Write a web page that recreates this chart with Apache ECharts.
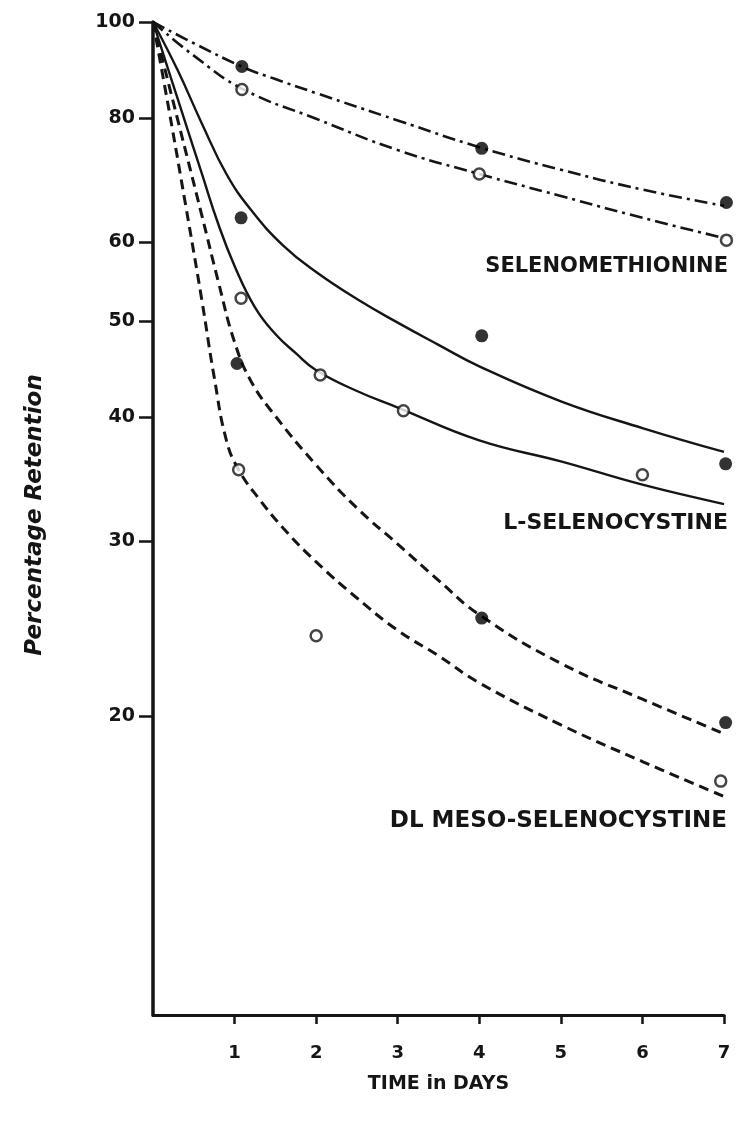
<!DOCTYPE html>
<html>
<head>
<meta charset="utf-8">
<title>Percentage Retention</title>
<script src="https://cdn.jsdelivr.net/npm/echarts@6/dist/echarts.min.js"></script>
<style>
  html, body { margin: 0; padding: 0; background: #fff; }
  #chart { width: 739px; height: 1138px; }
</style>
</head>
<body>
<div id="chart"></div>
<script>
// Tick labels
const dayTicks = [1, 2, 3, 4, 5, 6, 7];
const retentionTicks = [20, 30, 40, 50, 60, 80, 100];

// Observed retention (%) — filled and open symbols for each compound
const selenomethionineFilled = [[1.09, 90.2], [4.03, 74.6], [7.03, 65.8]];
const selenomethionineOpen = [[1.09, 85.5], [4.0, 70.3], [7.03, 60.3]];
const lSelenocystineFilled = [[1.08, 63.5], [4.03, 48.3], [7.02, 35.9]];
const lSelenocystineOpen = [[1.08, 52.7], [2.05, 44.1], [3.07, 40.6], [6.0, 35.0]];
const dlMesoFilled = [[1.03, 45.3], [4.03, 25.1], [7.02, 19.7]];
const dlMesoOpen = [[1.05, 35.4], [2.0, 24.1], [6.96, 17.2]];

// Fitted retention curves
const selenomethionineFilledCurve = [[0, 100], [0.5, 95.2], [1.1, 90.1], [1.5, 87.6], [2, 84.8], [3, 79.6], [4, 74.8], [5, 71.0], [6, 67.8], [7, 65.3]];
const selenomethionineOpenCurve = [[0, 100], [0.5, 92.5], [1.1, 85.6], [2, 79.9], [3, 74.3], [4, 70.3], [5, 66.8], [6, 63.5], [7, 60.6]];
const lSelenocystineFilledCurve = [[0, 100], [0.3, 89.5], [0.6, 79.0], [0.9, 70.3], [1.2, 64.7], [1.6, 59.5], [2.0, 56.0], [2.5, 52.6], [3.0, 49.8], [3.5, 47.3], [4.0, 45.0], [5.0, 41.5], [6.0, 39.0], [7.0, 36.9]];
const lSelenocystineOpenCurve = [[0, 100], [0.3, 83.8], [0.6, 70.3], [0.8, 62.6], [1.0, 56.8], [1.25, 51.6], [1.5, 48.5], [1.75, 46.4], [2.0, 44.6], [2.5, 42.5], [3.0, 40.9], [4.0, 37.9], [5.0, 36.1], [6.0, 34.2], [7.0, 32.7]];
const dlMesoFilledCurve = [[0, 100], [0.3, 79.9], [0.6, 63.8], [0.8, 54.8], [1.0, 47.6], [1.2, 43.5], [1.5, 40.1], [2.0, 35.8], [2.5, 32.4], [3.0, 29.8], [3.5, 27.4], [4.0, 25.3], [5.0, 22.6], [6.0, 20.8], [7.0, 19.2]];
const dlMesoOpenCurve = [[0, 100], [0.2, 81.2], [0.4, 65.4], [0.6, 52.4], [0.75, 43.9], [0.9, 37.9], [1.05, 35.4], [1.3, 33.1], [1.6, 30.9], [2.0, 28.6], [2.5, 26.3], [3.0, 24.4], [3.5, 23.0], [4.0, 21.6], [5.0, 19.6], [6.0, 18.0], [7.0, 16.6]];

const ink = '#151515';
const labelFont = '"DejaVu Sans", "Noto Sans", sans-serif';
const dashDot = [13, 5, 3, 5];
const dashed = [10, 6];

function curve(data, type, width) {
  return {
    type: 'line', data: data, smooth: 0.45,
    symbol: 'none', silent: true, clip: false,
    lineStyle: { color: ink, width: width, type: type, cap: 'butt' }, z: 2
  };
}
function points(data, filled) {
  return {
    type: 'scatter', data: data, symbol: 'circle', clip: false,
    symbolSize: filled ? 13 : 11,
    itemStyle: filled
      ? { color: '#000' }
      : { color: '#fff', borderColor: ink, borderWidth: 2.5 },
    z: 5
  };
}

const chart = echarts.init(document.getElementById('chart'), null, { renderer: 'canvas' });
chart.setOption({
  backgroundColor: '#fff',
  animation: false,
  grid: { left: 153, right: 15, top: 22, bottom: 123 },
  xAxis: {
    type: 'value', min: 0, max: 7, interval: 1,
    name: 'TIME in DAYS', nameLocation: 'middle', nameGap: 60,
    nameTextStyle: { color: ink, fontFamily: labelFont, fontWeight: 'bold', fontSize: 19 },
    splitLine: { show: false },
    axisLine: { lineStyle: { color: ink, width: 3 } },
    axisTick: { customValues: dayTicks, length: 9, lineStyle: { color: ink, width: 2.5 } },
    axisLabel: { customValues: dayTicks, margin: 29, color: ink, fontFamily: labelFont, fontWeight: 'bold', fontSize: 18 }
  },
  yAxis: {
    type: 'log', logBase: 10, min: 10, max: 100,
    splitLine: { show: false },
    axisLine: { lineStyle: { color: ink, width: 3.5 } },
    axisTick: { customValues: retentionTicks, length: 14, lineStyle: { color: ink, width: 2.5 } },
    axisLabel: { customValues: retentionTicks, margin: 18, color: ink, fontFamily: labelFont, fontWeight: 'bold', fontSize: 19 }
  },
  series: [
    curve(selenomethionineFilledCurve, dashDot, 2.6),
    curve(selenomethionineOpenCurve, dashDot, 2.6),
    curve(lSelenocystineFilledCurve, 'solid', 2.4),
    curve(lSelenocystineOpenCurve, 'solid', 2.4),
    curve(dlMesoFilledCurve, dashed, 3),
    curve(dlMesoOpenCurve, dashed, 3),
    points(selenomethionineFilled, true),
    points(selenomethionineOpen, false),
    points(lSelenocystineFilled, true),
    points(lSelenocystineOpen, false),
    points(dlMesoFilled, true),
    points(dlMesoOpen, false)
  ],
  graphic: [
    {
      type: 'text', x: 35, y: 515, rotation: Math.PI / 2,
      style: { text: 'Percentage Retention', fill: ink, font: 'italic bold 23px ' + labelFont, align: 'center', verticalAlign: 'middle' }
    },
    {
      type: 'text', x: 728, y: 267,
      style: { text: 'SELENOMETHIONINE', fill: ink, font: 'bold 21px ' + labelFont, align: 'right', verticalAlign: 'middle' }
    },
    {
      type: 'text', x: 728, y: 523,
      style: { text: 'L-SELENOCYSTINE', fill: ink, font: 'bold 22px ' + labelFont, align: 'right', verticalAlign: 'middle' }
    },
    {
      type: 'text', x: 727, y: 821,
      style: { text: 'DL MESO-SELENOCYSTINE', fill: ink, font: 'bold 23px ' + labelFont, align: 'right', verticalAlign: 'middle' }
    }
  ]
});
</script>
</body>
</html>
